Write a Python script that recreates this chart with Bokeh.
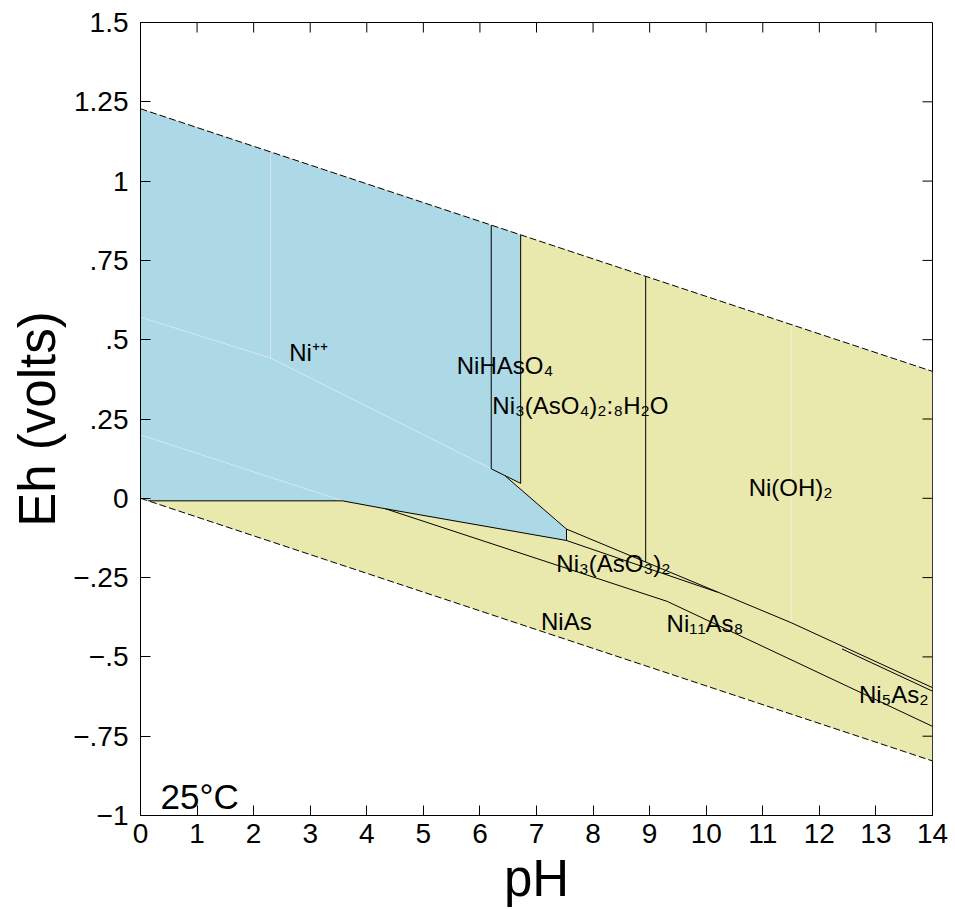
from bokeh.plotting import figure
from bokeh.models import FixedTicker, Range1d
from bokeh.core.properties import value
from bokeh.embed import file_html
from bokeh.resources import INLINE

# ---------------- data ----------------
ph_ticks = list(range(0, 15))
eh_ticks = [-1.0, -0.75, -0.5, -0.25, 0.0, 0.25, 0.5, 0.75, 1.0, 1.25, 1.5]
eh_tick_labels = ["\u22121", "\u2212.75", "\u2212.5", "\u2212.25", "0", ".25", ".5", ".75", "1", "1.25", "1.5"]

# water stability limits
water_ph = [0, 14]
water_upper_eh = [1.228, 0.400]
water_lower_eh = [0.0, -0.828]

# whole stability field between the water limits
field_ph = [0, 14, 14, 0]
field_eh = [1.228, 0.400, -0.828, 0.0]

# Ni++ / NiHAsO4 (blue) field
ni_ph = [0, 6.72, 6.72, 6.45, 7.53, 7.53, 4.33, 3.57, 0.135, 0]
ni_eh = [1.228, 0.830, 0.047, 0.070, -0.097, -0.133, -0.033, -0.008, -0.008, 0.0]

# boundaries
b_ph = [
    [6.20, 6.20],
    [6.72, 6.72],
    [6.20, 6.72],
    [6.45, 7.53],
    [7.53, 7.53],
    [0.135, 3.57, 4.33, 7.53],
    [4.33, 9.31, 14.0],
    [7.53, 8.93, 11.5, 14.0],
    [7.53, 10.2],
    [12.4, 14.0],
    [8.93, 8.93],
]
b_eh = [
    [0.861, 0.093],
    [0.830, 0.047],
    [0.093, 0.047],
    [0.070, -0.097],
    [-0.097, -0.133],
    [-0.008, -0.008, -0.033, -0.133],
    [-0.033, -0.325, -0.719],
    [-0.097, -0.201, -0.392, -0.597],
    [-0.133, -0.296],
    [-0.475, -0.608],
    [0.699, -0.201],
]

# faint seams of the fill
seam_ph = [[2.3, 2.3], [0, 2.3, 6.2], [0, 3.57], [11.5, 11.5]]
seam_eh = [[1.092, 0.442], [0.571, 0.442, 0.093], [0.200, -0.008], [0.548, -0.392]]

label_text = ["Ni\u207a\u207a", "NiHAsO\u2084", "Ni\u2083(AsO\u2084)\u2082:\u2088H\u2082O", "Ni(OH)\u2082",
              "Ni\u2083(AsO\u2083)\u2082", "NiAs", "Ni\u2081\u2081As\u2088", "Ni\u2085As\u2082"]
label_ph = [2.63, 5.59, 6.22, 10.75, 7.35, 7.08, 9.30, 12.70]
label_eh = [0.461, 0.418, 0.294, 0.033, -0.207, -0.388, -0.395, -0.619]

temp_text = ["25\u00b0C"]
temp_ph = [0.354]
temp_eh = [-0.940]

# ---------------- figure ----------------
FONT = "Liberation Sans"
BLUE = "#ADD8E6"
YELLOW = "#E9E9AD"

p = figure(width=955, height=909, x_range=Range1d(0, 14), y_range=Range1d(-1, 1.5),
           output_backend="svg", toolbar_location=None,
           min_border_left=140, min_border_right=23, min_border_top=22, min_border_bottom=93)
p.grid.visible = False
p.outline_line_color = "black"
p.outline_line_width = 1

p.patch(field_ph, field_eh, fill_color=YELLOW, line_color=None)
p.patch(ni_ph, ni_eh, fill_color=BLUE, line_color=None)
p.multi_line(seam_ph, seam_eh, line_color="white", line_alpha=0.45, line_width=1)
p.multi_line(b_ph, b_eh, line_color="black", line_width=1)
p.line(water_ph, water_upper_eh, line_color="black", line_width=1, line_dash="7 3")
p.line(water_ph, water_lower_eh, line_color="black", line_width=1, line_dash="7 3")

p.text(x=label_ph, y=label_eh, text=label_text, text_font=value(FONT), text_font_size="24px",
       text_color="black", text_align="left", text_baseline="alphabetic")
p.text(x=temp_ph, y=temp_eh, text=temp_text, text_font=value(FONT), text_font_size="35px",
       text_color="black", text_align="left", text_baseline="alphabetic")

# inward ticks on the top and right edges of the frame
p.ray(x=ph_ticks, y=[eh_ticks[-1]] * len(ph_ticks), length=10, length_units="screen",
      angle=-90, angle_units="deg", line_color="black", line_width=1)
p.ray(x=[ph_ticks[-1]] * len(eh_ticks), y=eh_ticks, length=10, length_units="screen",
      angle=180, angle_units="deg", line_color="black", line_width=1)

# axes
for ax in (p.xaxis[0], p.yaxis[0]):
    ax.axis_line_color = "black"
    ax.major_tick_line_color = "black"
    ax.major_tick_in = 10
    ax.major_tick_out = 0
    ax.minor_tick_line_color = None
    ax.major_label_text_font = FONT
    ax.major_label_text_color = "black"
    ax.major_label_text_font_size = "28px"
    ax.axis_label_text_font = FONT
    ax.axis_label_text_font_size = "51px"
    ax.axis_label_text_font_style = "normal"
    ax.axis_label_text_color = "black"
    ax.axis_label_standoff = 4

p.xaxis.ticker = FixedTicker(ticks=ph_ticks)
p.yaxis.ticker = FixedTicker(ticks=eh_ticks)
p.yaxis.major_label_overrides = {t: s for t, s in zip(eh_ticks, eh_tick_labels)}
p.xaxis.major_label_standoff = 8
p.yaxis.major_label_standoff = 12
p.xaxis.axis_label = "pH"
p.yaxis.axis_label = "Eh (volts)"

open("out.html", "w").write(file_html(p, INLINE))
